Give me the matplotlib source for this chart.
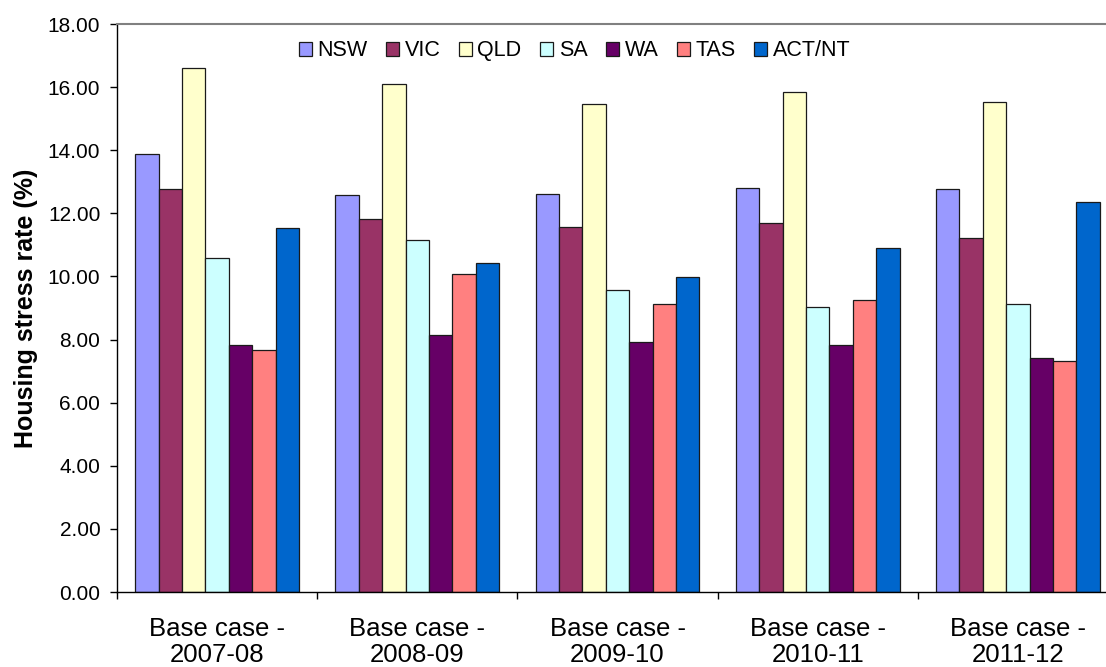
import numpy as np
import matplotlib
matplotlib.use('Agg')
import matplotlib.pyplot as plt

plt.rcParams['font.family'] = ['Liberation Sans', 'DejaVu Sans']

# housing stress rate (%) by state, base case years
years = ['Base case -\n2007-08', 'Base case -\n2008-09', 'Base case -\n2009-10',
         'Base case -\n2010-11', 'Base case -\n2011-12']
states = ['NSW', 'VIC', 'QLD', 'SA', 'WA', 'TAS', 'ACT/NT']
nsw = [13.87, 12.58, 12.60, 12.81, 12.76]
vic = [12.77, 11.82, 11.57, 11.68, 11.21]
qld = [16.61, 16.10, 15.48, 15.85, 15.54]
sa = [10.57, 11.14, 9.58, 9.02, 9.14]
wa = [7.84, 8.15, 7.93, 7.82, 7.40]
tas = [7.68, 10.07, 9.13, 9.26, 7.32]
act_nt = [11.54, 10.42, 9.99, 10.91, 12.37]
colors = ['#9999FF', '#993366', '#FFFFCC', '#CCFFFF', '#660066', '#FF8080', '#0066CC']

series = [nsw, vic, qld, sa, wa, tas, act_nt]

fig = plt.figure(figsize=(11.06, 6.67), dpi=100)
ax = fig.add_axes([117 / 1106, 75 / 667, 1001 / 1106, 568 / 667])

x = np.arange(len(years))
w = 0.117
for i, vals in enumerate(series):
    offs = (i - 3) * w
    ax.bar(x + offs, vals, w, color=colors[i], edgecolor='#1a1a1a',
           linewidth=0.9, label=states[i])

ax.set_xlim(-0.5, len(years) - 0.5)
ax.set_ylim(0, 18)
ax.set_yticks(np.arange(0, 18.01, 2))
ax.set_yticklabels(['%.2f' % v for v in np.arange(0, 18.01, 2)])
ax.set_xticks(x)
ax.set_xticklabels(years, fontsize=18.5, linespacing=1.1)
ax.set_xticks(np.arange(-0.5, len(years)), minor=True)
ax.tick_params(axis='x', which='major', length=0, pad=18)
ax.tick_params(axis='x', which='minor', length=5, width=1, direction='out')
ax.tick_params(axis='y', length=5, width=1, direction='out', labelsize=15, pad=7)

ax.set_ylabel('Housing stress rate (%)', fontsize=18, fontweight='bold', labelpad=7)

for side in ['left', 'bottom']:
    ax.spines[side].set_color('black')
    ax.spines[side].set_linewidth(1)
ax.spines['top'].set_color('#808080')
ax.spines['top'].set_linewidth(1.5)
ax.spines['right'].set_color('#808080')

leg = ax.legend(loc='center', bbox_to_anchor=(0.457, 0.9525), ncol=7, frameon=False,
                fontsize=15.5, handlelength=0.62, handleheight=0.62,
                handletextpad=0.25, columnspacing=0.85, borderaxespad=0)
for h in leg.legend_handles:
    h.set_linewidth(0.9)

fig.savefig('out.png', dpi=100)
